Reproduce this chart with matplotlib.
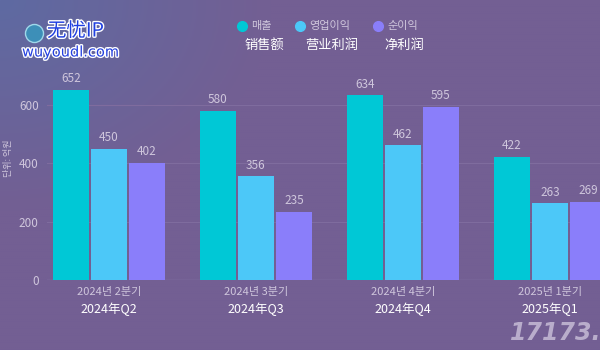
import numpy as np
import matplotlib.pyplot as plt
import matplotlib.patheffects as pe
from matplotlib.lines import Line2D

plt.rcParams['font.family'] = ['Noto Sans CJK KR', 'DejaVu Sans']

# data (억원)
quarters_kr = ['2024년 2분기', '2024년 3분기', '2024년 4분기', '2025년 1분기']
quarters_cn = ['2024年Q2', '2024年Q3', '2024年Q4', '2025年Q1']
series_kr = ['매출', '영업이익', '순이익']
series_cn = ['销售额', '营业利润', '净利润']
sales = [652, 580, 634, 422]
op_profit = [450, 356, 462, 263]
net_profit = [402, 235, 595, 269]
yticks = [0, 200, 400, 600]

colors = ['#00c8d6', '#4cc8f8', '#8a7efa']
txt_grey = '#cfc6dc'

fig = plt.figure(figsize=(6, 3.5), dpi=100)

# background gradient (bluish top-left -> purple)
bg = fig.add_axes([0, 0, 1, 1], zorder=-10)
yy, xx = np.mgrid[0:1:200j, 0:1:300j]
d = np.clip(1 - np.sqrt((xx / 0.45) ** 2 + (yy / 0.6) ** 2), 0, 1)
c0 = np.array([0x73, 0x5f, 0x93]) / 255
c1 = np.array([0x5e, 0x6a, 0xa2]) / 255
img = c0 + (c1 - c0) * d[..., None]
bg.imshow(img, aspect='auto', extent=[0, 1, 0, 1], origin='upper')
bg.axis('off')

ax = fig.add_axes([47 / 600, 0.2, 1 - 47 / 600, 204 / 350])
ax.set_facecolor('none')

x = np.arange(len(quarters_kr))
w = 0.245
step = 0.2585
for k, vals in enumerate([sales, op_profit, net_profit]):
    pos = x + (k - 1) * step
    ax.bar(pos, vals, width=w, color=colors[k], zorder=3)
    for p, v in zip(pos, vals):
        ax.text(p, v + 16, str(v), ha='center', va='bottom', fontsize=8.5,
                color=txt_grey, zorder=4)

ax.set_xlim(-0.42, 3.34)
ax.set_ylim(0, 700)
ax.set_yticks(yticks)
ax.set_yticklabels([str(t) for t in yticks], color=txt_grey, fontsize=8.5)
ax.tick_params(axis='y', length=0, pad=6)
ax.set_xticks(x)
ax.set_xticklabels([])
ax.tick_params(axis='x', length=0)
ax.grid(axis='y', color='#7f6c9e', linewidth=0.8, zorder=0)
for s in ax.spines.values():
    s.set_visible(False)
ax.axhline(0, color='#8a78a8', linewidth=1, zorder=2)

for i in x:
    ax.text(i, -24, quarters_kr[i], ha='center', va='top', fontsize=8,
            color=txt_grey)
    ax.text(i, -76, quarters_cn[i], ha='center', va='top', fontsize=9,
            color='white', family=['Noto Sans CJK SC', 'DejaVu Sans'])

fig.text(9 / 600, 1 - 158 / 350, '단위: 억원', rotation=90, ha='center',
         va='center', fontsize=6.5, color=txt_grey)

# legend
leg_x = [242, 300, 378]
for k in range(3):
    fig.add_artist(Line2D([leg_x[k] / 600], [1 - 26 / 350], marker='o',
                          markersize=7, color=colors[k], linestyle='none',
                          transform=fig.transFigure))
    fig.text((leg_x[k] + 9) / 600, 1 - 26 / 350, series_kr[k], ha='left',
             va='center', fontsize=8, color=txt_grey)
cn_x = [264, 332, 404]
for k in range(3):
    fig.text(cn_x[k] / 600, 1 - 45 / 350, series_cn[k], ha='center',
             va='center', fontsize=9.5, color='white',
             family=['Noto Sans CJK SC', 'DejaVu Sans'])

# watermarks
wm = [pe.withStroke(linewidth=2, foreground='white')]
fig.add_artist(Line2D([34 / 600], [1 - 33 / 350], marker='o', markersize=13,
                      color='#3d8fb8', markeredgecolor='#9fd8ea',
                      linestyle='none', transform=fig.transFigure))
fig.text(47 / 600, 1 - 31 / 350, '无忧IP', ha='left', va='center',
         fontsize=14, color='#1f3fe0', path_effects=wm,
         family=['Noto Sans CJK SC', 'DejaVu Sans'])
fig.text(22 / 600, 1 - 52 / 350, 'wuyoudl.com', ha='left', va='center',
         fontsize=10.5, color='#2440e0', path_effects=wm,
         family=['DejaVu Sans'])
fig.text(510 / 600, 1 - 333 / 350, '17173.c', ha='left', va='center',
         fontsize=17, fontweight='bold', style='italic', color='#c6bcd6',
         alpha=0.85, family=['DejaVu Sans'])

fig.savefig('out.png', dpi=100)
